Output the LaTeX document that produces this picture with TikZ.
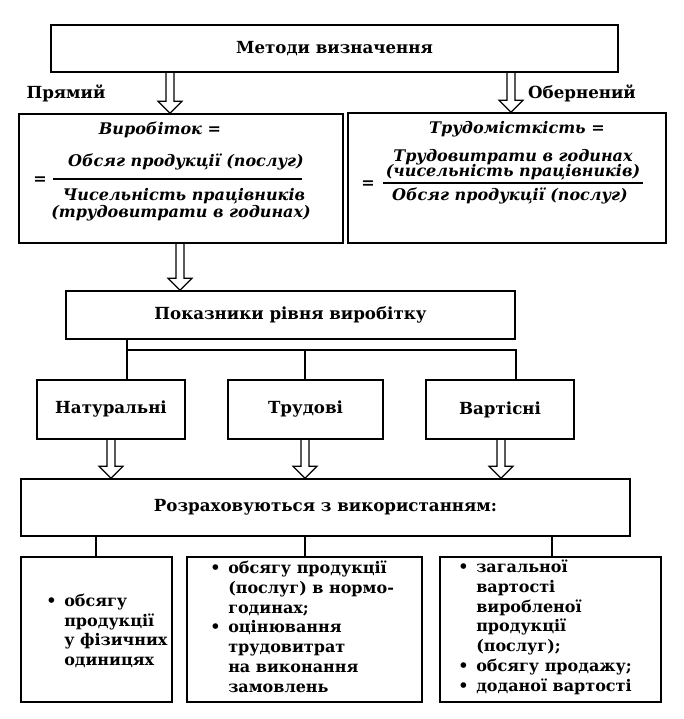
\documentclass[tikz,border=0pt]{standalone}
\usepackage{fontspec}
\setmainfont{DejaVu Serif}
\usetikzlibrary{calc}
\newcommand\ttl{\bfseries\fontsize{12.5}{15}\selectfont}
\newcommand\fml{\bfseries\itshape\fontsize{12}{14}\selectfont}
\newcommand\lst{\bfseries\fontsize{12}{14.8}\selectfont}
\tikzset{
  box/.style={draw, line width=1.1pt, inner sep=0pt, align=center, font=\ttl},
  wh/.style 2 args={minimum width=#1*0.75pt, minimum height=#2*0.75pt},
  harr/.style={line width=0.9pt},
  conn/.style={line width=1pt},
  txt/.style={inner sep=0pt, font=\fml},
  lab/.style={inner sep=0pt, font=\ttl},
  lsttxt/.style={inner sep=0pt, anchor=west, align=left, font=\lst},
}
\newcommand\harrow[3]{%
  \draw[harr] let \p1=(#1,0 |- #2), \p2=(#1,0 |- #3) in
    (\x1-3pt,\y1) -- (\x1-3pt,\y2+9pt) -- (\x1-9pt,\y2+9pt) -- (\x1,\y2)
    -- (\x1+9pt,\y2+9pt) -- (\x1+3pt,\y2+9pt) -- (\x1+3pt,\y1);}
\newcommand\blist[1]{\begin{tabular}{@{}p{13.5pt}@{}l@{}}#1\end{tabular}}
\begin{document}
\begin{tikzpicture}[x=0.75pt, y=-0.75pt]
\useasboundingbox (0,0) rectangle (684,719);
% top
\node[box, wh={567}{47}] (top) at (334.5,48.5) {Методи визначення};
\node[lab] (lp) at (66,93) {Прямий};
\node[lab] (lo) at (582,93) {Обернений};
% formula boxes
\node[box, wh={324}{129}] (L) at (181,178.5) {};
\node[box, wh={318}{130}] (R) at (507,178) {};
\harrow{170}{top.south}{L.north}
\harrow{511}{top.south}{R.north}
% left formula
\node[txt] (Lh) at (160,130) {Виробіток =};
\node[txt] (Ln) at (186,162) {Обсяг продукції (послуг)};
\node[txt] (Leq) at (40,181) {=};
\draw[line width=0.9pt] (53,179) -- (302,179);
\node[txt] (Ld1) at (184,196) {Чисельність працівників};
\node[txt] (Ld2) at (181,213) {(трудовитрати в годинах)};
% right formula
\node[txt] (Rh) at (517,129) {Трудомісткість =};
\node[txt] (Rn1) at (513,157) {Трудовитрати в годинах};
\node[txt] (Rn2) at (513,172) {(чисельність працівників)};
\node[txt] (Req) at (368,185) {=};
\draw[line width=0.9pt] (383,183) -- (643,183);
\node[txt] (Rd) at (510,196) {Обсяг продукції (послуг)};
% indicators
\node[box, wh={449}{48}] (P) at (290.5,315) {Показники рівня виробітку};
\harrow{180}{L.south}{P.north}
\node[box, wh={148}{59}] (N) at (111,409.5) {Натуральні};
\node[box, wh={155}{59}] (T) at (305.5,409.5) {Трудові};
\node[box, wh={148}{59}] (V) at (500,409.5) {Вартісні};
\coordinate (hj1) at (127,350);
\coordinate (hj2) at (305,350);
\coordinate (hj3) at (516,350);
\draw[conn] (P.south -| hj1) -- (hj1) -- (N.north -| hj1);
\draw[conn] (hj1) -- (hj3) -- (V.north -| hj3);
\draw[conn] (hj2) -- (T.north -| hj2);
% calculation
\node[box, wh={609}{57}] (Rz) at (325.5,507.5) {Розраховуються з використанням:};
\harrow{111}{N.south}{Rz.north}
\harrow{305}{T.south}{Rz.north}
\harrow{501}{V.south}{Rz.north}
\node[box, wh={151}{145}] (B1) at (96.5,629.5) {};
\node[box, wh={235}{145}] (B2) at (304.5,629.5) {};
\node[box, wh={221}{145}] (B3) at (550.5,629.5) {};
\draw[conn] (Rz.south -| 96,0) -- (B1.north -| 96,0);
\draw[conn] (Rz.south -| 305,0) -- (B2.north -| 305,0);
\draw[conn] (Rz.south -| 552,0) -- (B3.north -| 552,0);
\node[lsttxt] (B1t) at (46,632) {\blist{• & обсягу\\ & продукції\\ & у фізичних\\ & одиницях}};
\node[lsttxt] (B2t) at (210,629) {\blist{• & обсягу продукції\\ & (послуг) в нормо-\\ & годинах;\\ • & оцінювання\\ & трудовитрат\\ & на виконання\\ & замовлень}};
\node[lsttxt] (B3t) at (458,628) {\blist{• & загальної\\ & вартості\\ & виробленої\\ & продукції\\ & (послуг);\\ • & обсягу продажу;\\ • & доданої вартості}};
\end{tikzpicture}
\end{document}
